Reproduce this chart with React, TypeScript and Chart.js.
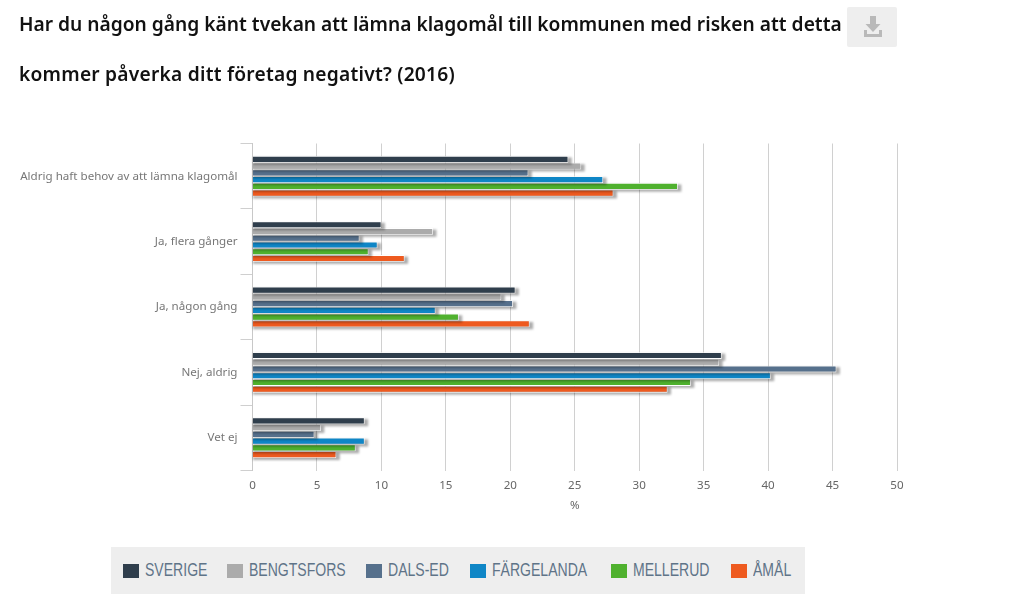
import React, { useEffect, useRef } from "react";
import { Chart, registerables } from "chart.js";

Chart.register(...registerables);

const titleLines = [
  "Har du någon gång känt tvekan att lämna klagomål till kommunen med risken att detta",
  "kommer påverka ditt företag negativt? (2016)",
];
const categories = ["Aldrig haft behov av att lämna klagomål", "Ja, flera gånger", "Ja, någon gång", "Nej, aldrig", "Vet ej"];
const seriesNames = ["SVERIGE", "BENGTSFORS", "DALS-ED", "FÄRGELANDA", "MELLERUD", "ÅMÅL"];
const seriesColors = ["#2f3e4c", "#ababab", "#56708c", "#0f86c6", "#4fb12e", "#ee5a1f"];
const sverige = [24.5, 10, 20.4, 36.4, 8.7];
const bengtsfors = [25.5, 14, 19.3, 36.2, 5.3];
const dalsEd = [21.4, 8.3, 20.2, 45.3, 4.8];
const fargelanda = [27.2, 9.7, 14.2, 40.2, 8.7];
const mellerud = [33, 9, 16, 34, 8];
const amal = [28, 11.8, 21.5, 32.2, 6.5];
const seriesValues = [sverige, bengtsfors, dalsEd, fargelanda, mellerud, amal];
const axisTitle = "%";

const tickFont = { family: "'Noto Sans', sans-serif", size: 11.6 };

const barShadow = {
  id: "barShadow",
  beforeDatasetDraw(chart: any, args: any) {
    const c = chart.ctx;
    c.save();
    c.fillStyle = "rgba(0,0,0,0.32)";
    c.filter = "blur(1.2px)";
    chart.getDatasetMeta(args.index).data.forEach((bar: any) => {
      const { x, y, base, height } = bar.getProps(["x", "y", "base", "height"], true);
      c.fillRect(base, y - height / 2 + 1.5, x - base + 3.5, height + 0.5);
    });
    c.restore();
  },
};

export default function App() {
  const ref = useRef<HTMLCanvasElement | null>(null);

  useEffect(() => {
    const chart = new Chart(ref.current as HTMLCanvasElement, {
      type: "bar",
      data: {
        labels: categories,
        datasets: seriesNames.map((name, i) => ({
          label: name,
          data: seriesValues[i],
          backgroundColor: seriesColors[i],
          borderColor: "#ffffff",
          borderWidth: 0.8,
          barPercentage: 1,
          categoryPercentage: 0.62,
        })),
      },
      options: {
        indexAxis: "y",
        responsive: false,
        animation: false,
        layout: { padding: { top: 143.5, right: 126, bottom: 92, left: 0 } },
        plugins: { legend: { display: false }, title: { display: false }, tooltip: { enabled: false } },
        scales: {
          x: {
            min: 0,
            max: 50,
            afterFit: (s: any) => { s.height = 42.5; },
            ticks: { stepSize: 5, color: "#666666", font: tickFont, padding: 8, maxRotation: 0 },
            grid: { color: "#d0d0d0", lineWidth: 1, drawTicks: false },
            border: { display: false },
            title: { display: true, text: axisTitle, color: "#666666", font: tickFont, padding: { top: 5, bottom: 0 } },
          },
          y: {
            afterFit: (s: any) => { s.width = 252.5; },
            ticks: { color: "#777777", font: tickFont, padding: 3, autoSkip: false },
            grid: { drawOnChartArea: false, color: "#cfcfcf", tickLength: 12, offset: true },
            border: { display: true, color: "#c8c8c8" },
          },
        },
      },
      plugins: [barShadow],
    } as any);
    return () => chart.destroy();
  }, []);

  return (
    <div style={{ position: "absolute", left: 0, top: 0, width: 1023, height: 605, overflow: "hidden", background: "#fff" }}>
      <canvas ref={ref} width={1023} height={605} style={{ display: "block", width: 1023, height: 605 }} />
      {titleLines.map((line, i) => (
        <div
          key={i}
          style={{
            position: "absolute", left: 19, top: 10 + i * 50, lineHeight: "28px", whiteSpace: "nowrap",
            fontFamily: "'Noto Sans', sans-serif", fontWeight: 600, fontSize: 19.2, color: "#111",
            letterSpacing: i === 1 ? 0.23 : 0,
          }}
        >
          {line}
        </div>
      ))}
      <div style={{ position: "absolute", left: 847, top: 7, width: 50, height: 40, background: "#eeeeee", borderRadius: 2 }}>
        <svg width="50" height="40" viewBox="0 0 50 40">
          <path d="M23 9h6v8h4.500l-7.500 8-7.500-8H23z" fill="#b9b9b9" />
          <path d="M17 23h3v4h12v-4h3v7H17z" fill="#b9b9b9" />
        </svg>
      </div>
      <div style={{ position: "absolute", left: 111, top: 547, width: 694, height: 47, background: "#eeeeee" }}>
        {seriesNames.map((name, i) => (
          <div key={name} style={{ position: "absolute", left: [12, 116, 255, 359, 500, 620][i], top: 0, height: 47, display: "flex", alignItems: "center", whiteSpace: "nowrap" }}>
            <span style={{ display: "inline-block", width: 16, height: 14, background: seriesColors[i], marginRight: 6 }} />
            <span style={{ display: "inline-block", transform: "scaleX(0.78)", transformOrigin: "left center", fontFamily: "'Liberation Sans', sans-serif", fontSize: 18, color: "#5f7488" }}>{name}</span>
          </div>
        ))}
      </div>
    </div>
  );
}
